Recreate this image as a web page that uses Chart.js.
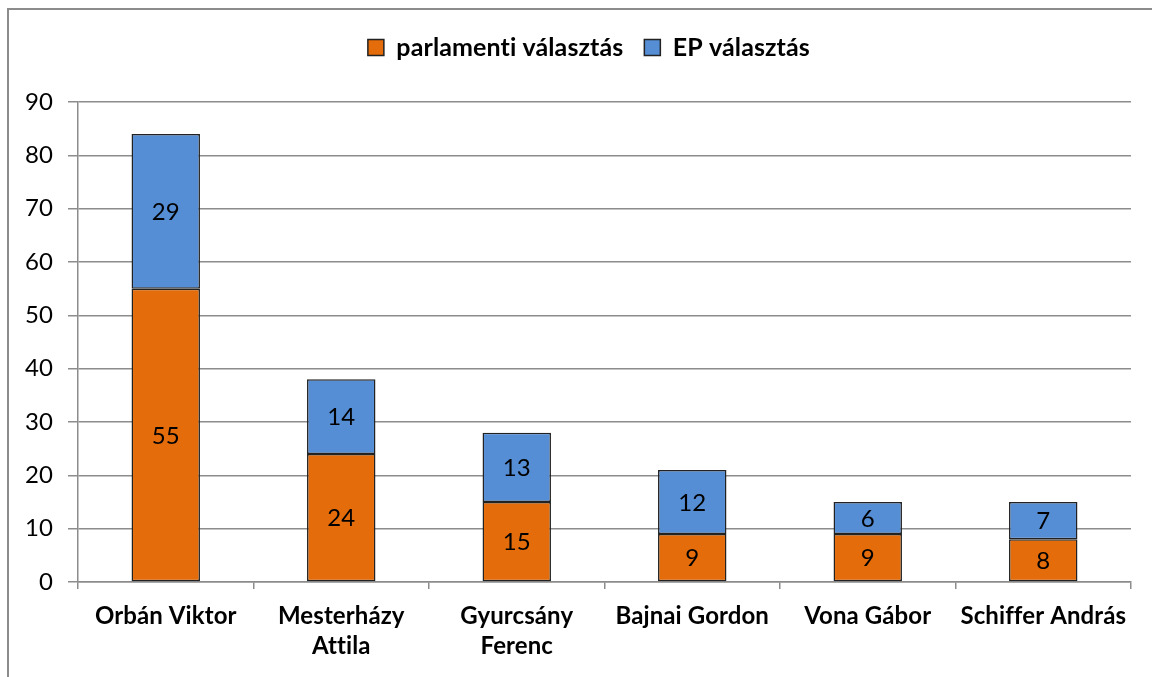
<!DOCTYPE html>
<html>
<head>
<meta charset="utf-8">
<title>Választás</title>
<script src="https://cdn.jsdelivr.net/npm/chart.js@4/dist/chart.umd.min.js"></script>
<style>
  html, body { margin: 0; padding: 0; background: #fff; overflow: hidden; }
  #frame { position: absolute; left: 7px; top: 8px; width: 1200px; height: 720px; border: 2px solid #8c8c8c; }
  #chartBox { position: absolute; left: 0; top: 0; }
</style>
</head>
<body>
<div id="frame"></div>
<canvas id="chartBox" width="1152" height="677"></canvas>
<script>
'use strict';

//--------> Data <--------
const candidates = ['Orbán Viktor', ['Mesterházy', 'Attila'], ['Gyurcsány', 'Ferenc'],
  'Bajnai Gordon', 'Vona Gábor', 'Schiffer András'];
const parlamenti = [55, 24, 15, 9, 9, 8];
const epValasztas = [29, 14, 13, 12, 6, 7];
const yTicks = [0, 10, 20, 30, 40, 50, 60, 70, 80, 90];

const fontName = 'Lato, "Open Sans", sans-serif';

//--------> Values written in the middle of every bar segment <--------
const segmentLabels = {
  id: 'segmentLabels',
  afterDatasetsDraw (chart) {
    const ctx = chart.ctx;
    ctx.save();
    ctx.font = '24px ' + fontName;
    ctx.fillStyle = '#000';
    ctx.textAlign = 'center';
    ctx.textBaseline = 'middle';
    chart.data.datasets.forEach((ds, i) => {
      const meta = chart.getDatasetMeta(i);
      meta.data.forEach((bar, j) => {
        ctx.fillText(String(ds.data[j]), bar.x, (bar.y + bar.base) / 2 + 1);
      });
    });
    ctx.restore();
  }
};

//--------> Legend: extra room below it, nudged a bit to the right <--------
const legendGap = {
  id: 'legendGap',
  beforeLayout (chart) {
    const legend = chart.legend;
    if (!legend || legend._gapAdded) return;
    const origFit = legend.fit;
    legend.fit = function () {
      origFit.call(this);
      this.height += 32;
    };
    legend._gapAdded = true;
  },
  afterLayout (chart) {
    if (!chart.legend) return;
    chart.legend.left += 12;
    chart.legend.right += 12;
  }
};

//--------> Plain letters, no "ti"/"tt" ligatures <--------
const noLigatures = {
  id: 'noLigatures',
  beforeDraw (chart) {
    chart.ctx.textRendering = 'optimizeSpeed';
    chart.ctx.letterSpacing = '0.1px';
  }
};

let ctx = document.getElementById('chartBox').getContext('2d');

let resultsChart = new Chart(ctx, {
  type: 'bar',
  data: {
    labels: candidates,
    datasets: [{
      label: 'parlamenti választás',
      data: parlamenti,
      backgroundColor: '#e46c0a',
      borderColor: '#222222',
      borderWidth: 1.5,
      borderSkipped: false
    }, {
      label: 'EP választás',
      data: epValasztas,
      backgroundColor: '#558ed5',
      borderColor: '#222222',
      borderWidth: 1.5,
      borderSkipped: false
    }]
  },
  options: {
    responsive: false,
    animation: false,
    barPercentage: 0.39,
    categoryPercentage: 1,
    layout: { padding: { left: 20, right: 21, top: 14, bottom: 0 } },
    plugins: {
      legend: {
        position: 'top',
        labels: {
          font: { family: fontName, size: 25, weight: 'bold' },
          color: '#000',
          boxWidth: 16,
          boxHeight: 16,
          padding: 21
        }
      },
      tooltip: { enabled: false }
    },
    scales: {
      x: {
        stacked: true,
        grid: { drawOnChartArea: false, drawTicks: true, tickLength: 7, color: '#8c8c8c', lineWidth: 1.5 },
        border: { color: '#8c8c8c', width: 1.5 },
        ticks: {
          font: { family: fontName, size: 24, weight: 'bold', lineHeight: 1.25 },
          color: '#000',
          maxRotation: 0,
          padding: 12
        },
        afterFit (scale) { scale.height = 95; }
      },
      y: {
        stacked: true,
        min: 0,
        max: 90,
        afterBuildTicks (scale) { scale.ticks = yTicks.map(v => ({ value: v })); },
        grid: { color: '#8c8c8c', lineWidth: 1.5, tickLength: 10 },
        border: { color: '#8c8c8c', width: 1.5 },
        ticks: {
          font: { family: fontName, size: 24 },
          color: '#000',
          padding: 15
        },
        afterFit (scale) { scale.width = 58; }
      }
    }
  },
  plugins: [segmentLabels, legendGap, noLigatures]
});
</script>
</body>
</html>
